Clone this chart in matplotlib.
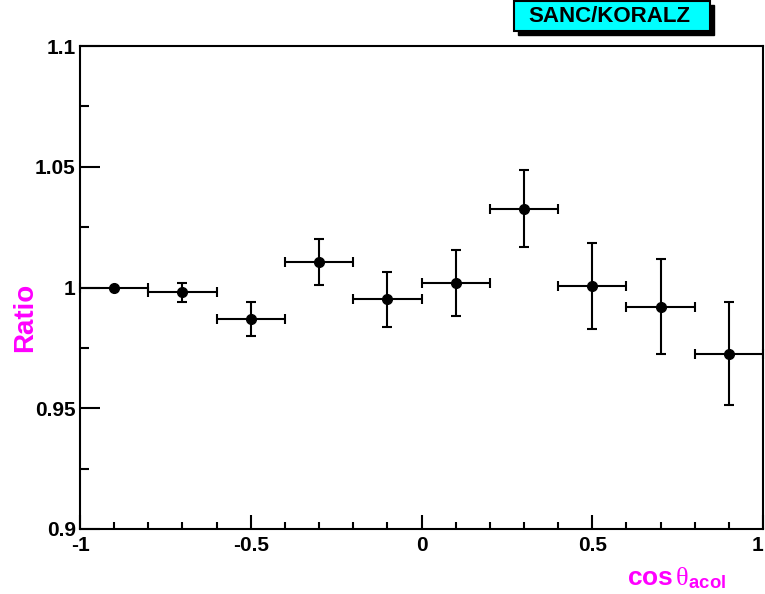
import numpy as np
import matplotlib.pyplot as plt
from matplotlib.patches import Rectangle
from matplotlib.ticker import MultipleLocator

plt.rcParams['font.family'] = ['Liberation Sans', 'DejaVu Sans']
plt.rcParams['mathtext.fontset'] = 'custom'
plt.rcParams['mathtext.rm'] = 'Liberation Sans:bold'
plt.rcParams['mathtext.it'] = 'Liberation Serif'
plt.rcParams['mathtext.bf'] = 'Liberation Sans:bold'

x = [-0.9, -0.7, -0.5, -0.3, -0.1, 0.1, 0.3, 0.5, 0.7, 0.9]
ratio = [1.000, 0.998, 0.987, 1.0104, 0.9952, 1.0018, 1.0327, 1.0006, 0.992, 0.9726]
yerr = [0.0, 0.004, 0.007, 0.0095, 0.0114, 0.0137, 0.016, 0.0178, 0.0197, 0.0213]
xerr = [0.1] * 10

fig = plt.figure(figsize=(7.65, 5.94), dpi=100)
ax = fig.add_axes([80 / 765, 1 - 529 / 594, 683 / 765, 483 / 594])

ax.errorbar(x, ratio, xerr=xerr, yerr=yerr, fmt='o', color='black',
            markersize=7, elinewidth=1.5, capsize=3.5, capthick=1.5, clip_on=False)

ax.set_xlim(-1, 1)
ax.set_ylim(0.9, 1.1)
ax.xaxis.set_minor_locator(MultipleLocator(0.1))
ax.yaxis.set_minor_locator(MultipleLocator(0.025))
ax.tick_params(which='both', direction='in', width=1.5, top=False, right=False,
               labelsize=15)
ax.tick_params(axis='y', which='major', length=14.5, pad=3)
ax.tick_params(axis='y', which='minor', length=6.5)
ax.tick_params(axis='x', which='major', length=10, pad=5)
ax.tick_params(axis='x', which='minor', length=5)
ax.set_xticks([-1, -0.5, 0, 0.5, 1])
ax.set_xticklabels(['-1', '-0.5', '0', '0.5', '1'], fontweight='bold')
ax.get_xticklabels()[-1].set_horizontalalignment('right')
ax.set_yticks([0.9, 0.95, 1.0, 1.05, 1.1])
ax.set_yticklabels(['0.9', '0.95', '1', '1.05', '1.1'], fontweight='bold')
for s in ax.spines.values():
    s.set_linewidth(1.5)

fig.text(25 / 765, 1 - 317 / 594, 'Ratio', rotation=90, color='magenta',
         fontsize=20, fontweight='bold', ha='center', va='center')
fig.text(627 / 765, 1 - 578 / 594, r'cos$\,\mathit{\theta}_{\mathbf{acol}}$',
         color='magenta', fontsize=19, fontweight='bold', ha='left', va='center')

# title box with shadow
fig.patches.append(Rectangle((518 / 765, 1 - 35 / 594), 196 / 765, 30 / 594,
                             transform=fig.transFigure, facecolor='black',
                             edgecolor='black', zorder=5))
fig.patches.append(Rectangle((514 / 765, 1 - 31 / 594), 196 / 765, 30 / 594,
                             transform=fig.transFigure, facecolor='cyan',
                             edgecolor='black', linewidth=1.5, zorder=6))
fig.text(609 / 765, 1 - 17 / 594, 'SANC/KORALZ', fontsize=16, fontweight='bold',
         ha='center', va='center', zorder=7)

fig.savefig('out.png', dpi=100)
